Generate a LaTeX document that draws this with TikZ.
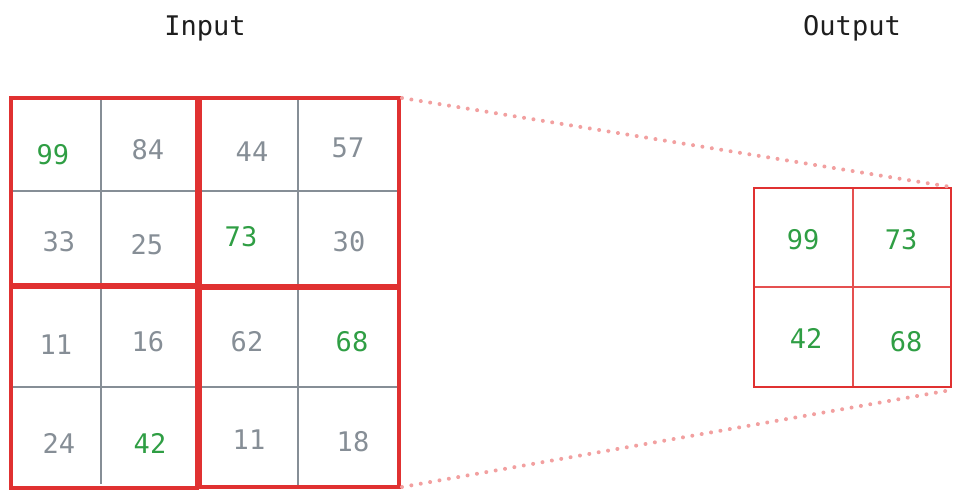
\documentclass[tikz,border=0pt]{standalone}
\usepackage{fontspec}
\setmonofont{DejaVu Sans Mono}
\definecolor{exred}{HTML}{E03131}
\definecolor{exgreen}{HTML}{2F9E44}
\definecolor{exgray}{HTML}{868E96}
\definecolor{expink}{HTML}{F2A0A0}
\definecolor{exdark}{HTML}{1E1E1E}
\tikzset{
  num/.style={font=\ttfamily\fontsize{27}{27}\selectfont, text=exgray, inner sep=0pt},
  hit/.style={num, text=exgreen},
  title/.style={font=\ttfamily\fontsize{27}{27}\selectfont, text=exdark, inner sep=0pt},
  gridline/.style={draw=exgray, line width=1.4pt},
  poolbox/.style={draw=exred, line width=3.6pt},
  outbox/.style={draw=exred, line width=1.6pt},
  outline/.style={draw=exred!85, line width=1.2pt},
  proj/.style={draw=expink, line width=4pt, line cap=round, dash pattern=on 0.01pt off 9.5pt}
}
\begin{document}
\begin{tikzpicture}[x=1pt,y=-1pt]
\useasboundingbox (0,0) rectangle (962,498);
% titles
\node[title] (tin) at (205,28) {Input};
\node[title] (tout) at (852,28) {Output};
% input grid lines
\draw[gridline] (101,100) -- (101,484);
\draw[gridline] (298,100) -- (298,487);
\draw[gridline] (12,191) -- (399,191);
\draw[gridline] (12,387) -- (399,387);
% pooling windows
\draw[poolbox] (11,98) rectangle (197,285);
\draw[poolbox] (200,98) rectangle (399,286);
\draw[poolbox] (11,287) rectangle (197,488);
\draw[poolbox] (200,288) rectangle (399,487);
% input numbers
\node[hit] (a11) at (53,155) {99};
\node[num] (a12) at (148,150) {84};
\node[num] (a13) at (252,152) {44};
\node[num] (a14) at (348,148) {57};
\node[num] (a21) at (59,242) {33};
\node[num] (a22) at (147,245) {25};
\node[hit] (a23) at (241,237) {73};
\node[num] (a24) at (349,242) {30};
\node[num] (a31) at (56,345) {11};
\node[num] (a32) at (148,342) {16};
\node[num] (a33) at (247,342) {62};
\node[hit] (a34) at (352,342) {68};
\node[num] (a41) at (59,443) {24};
\node[hit] (a42) at (150,443) {42};
\node[num] (a43) at (249,440) {11};
\node[num] (a44) at (353,442) {18};
% output grid
\draw[outline] (853,189) -- (853,387);
\draw[outline] (755,287) -- (951,287);
\draw[outbox] (754,188) rectangle (951,387);
\node[hit] (b11) at (803,240) {99};
\node[hit] (b12) at (901,240) {73};
\node[hit] (b21) at (806,338) {42};
\node[hit] (b22) at (906,342) {68};
% projection lines
\coordinate (itr) at (402,98);
\coordinate (ibr) at (402,487);
\coordinate (otr) at (951,187);
\coordinate (obr) at (951,390);
\draw[proj] (itr) -- (otr);
\draw[proj] (ibr) -- (obr);
\end{tikzpicture}
\end{document}
